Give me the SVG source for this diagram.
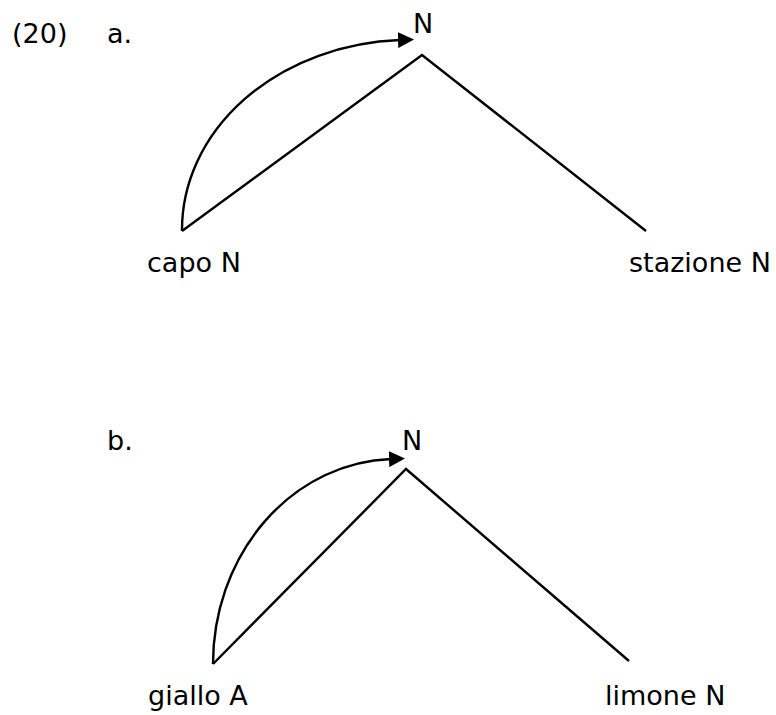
<svg xmlns="http://www.w3.org/2000/svg" width="776" height="715" viewBox="0 0 776 715">
<style>
text{font-family:"DejaVu Sans","Verdana",sans-serif;font-size:27px;fill:#000}
.ln{stroke:#000;stroke-width:2.4;fill:none}
</style>
<defs>
<marker id="ah" markerUnits="userSpaceOnUse" markerWidth="18" markerHeight="16" refX="2" refY="8" orient="auto">
<path d="M0,0 L16,8 L0,16 Z" fill="#000"/>
</marker>
</defs>
<g id="labels">
<text x="12" y="43">(20)</text>
<text x="107" y="43">a.</text>
<text x="107" y="450">b.</text>
</g>
<g id="nodeA_N"><text x="423" y="33" text-anchor="middle">N</text></g>
<g id="nodeA_capo"><text x="147" y="272">capo N</text></g>
<g id="nodeA_stazione"><text x="629" y="272">stazione N</text></g>
<g id="nodeB_N"><text x="412" y="450" text-anchor="middle">N</text></g>
<g id="nodeB_giallo"><text x="148" y="705">giallo A</text></g>
<g id="nodeB_limone"><text x="605" y="705">limone N</text></g>
<g id="connectors">
<path class="ln" d="M182,231 L422,55 L646,231"/>
<path class="ln" d="M182,231 A228,190 0 0 1 400,40" marker-end="url(#ah)"/>
<path class="ln" d="M213,664 L406,469 L629,661"/>
<path class="ln" d="M213,664 A184,205 0 0 1 391,459" marker-end="url(#ah)"/>
</g>
</svg>
